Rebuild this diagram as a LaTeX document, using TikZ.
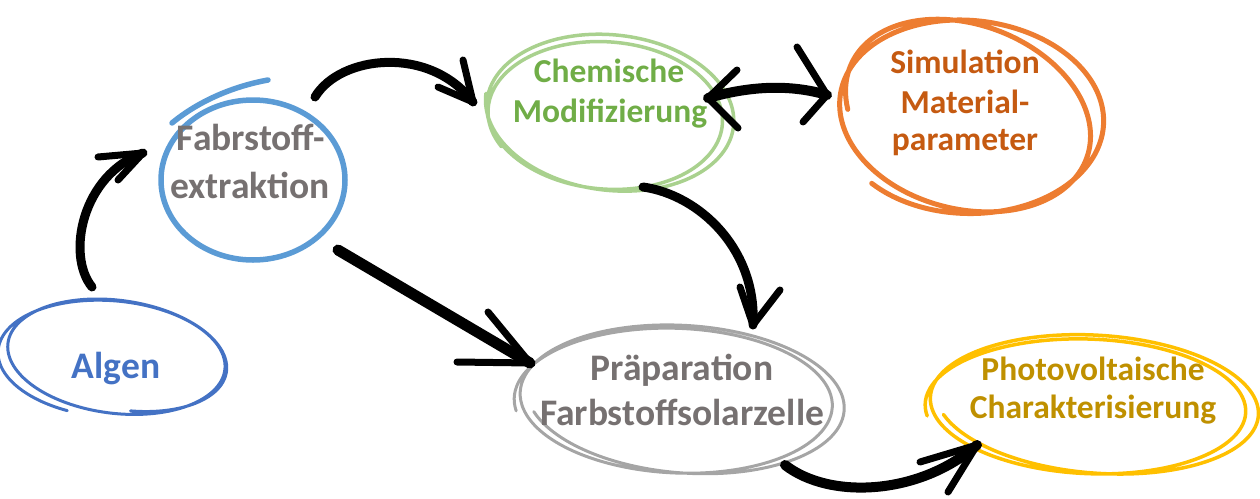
\documentclass[tikz,border=0pt]{standalone}
\usepackage{fontspec}
\setmainfont{Carlito}
\definecolor{cAlg}{HTML}{4472C4}
\definecolor{cFabE}{HTML}{5B9BD5}
\definecolor{cGrayT}{HTML}{767171}
\definecolor{cGrnT}{HTML}{70AD47}
\definecolor{cGrnE}{HTML}{A9D18E}
\definecolor{cOrT}{HTML}{C55A11}
\definecolor{cOrE}{HTML}{ED7D31}
\definecolor{cGrayE}{HTML}{A5A5A5}
\definecolor{cYelT}{HTML}{BF9000}
\definecolor{cYelE}{HTML}{FFC000}
% #1 style, #2 cx, #3 cy, #4 rx, #5 ry, #6 rotation, #7 start angle, #8 end angle, #9 growth
\newcommand{\sketchloop}[9]{%
  \draw[#1] plot[domain=#7:#8, samples=220, smooth, variable=\t]
   ({#2 + (1+#9*(\t-#7)/(#8-#7))*(#4*cos(\t)*cos(#6) - #5*sin(\t)*sin(#6))},
    {#3 + (1+#9*(\t-#7)/(#8-#7))*(#4*cos(\t)*sin(#6) + #5*sin(\t)*cos(#6))});
}
\begin{document}
\begin{tikzpicture}[x=1pt,y=-1pt,
  lbl/.style={anchor=base, inner sep=0pt, font=\fontsize{33.5}{40}\selectfont\bfseries},
  biglbl/.style={lbl, font=\fontsize{37.5}{44}\selectfont\bfseries},
  loop/.style={line cap=round, line join=round},
  brush/.style={line width=9pt, line cap=round, line join=round, black},
  brushhead/.style={line width=7pt, line cap=round, black}]
\useasboundingbox (0,0) rectangle (1260,498);

% ---- ellipses
\sketchloop{loop, cAlg, line width=3pt}{(110+0.016*(\t-110))}{(359-0.006*(\t-110))}{114}{58}{(4+0.008*(\t-110))}{110}{800}{-0.06}
\draw[loop, cFabE, line width=5.5pt] (253,180) ellipse [x radius=92, y radius=80];
\draw[loop, cFabE, line width=5.5pt] (172,123) .. controls (200,100) and (235,86) .. (268,80);
\sketchloop{loop, cGrnE, line width=3.5pt}{(602+0.014*(\t-150))}{(116-0.008*(\t-150))}{114}{72}{(3+0.006*(\t-150))}{150}{900}{0.12}
\sketchloop{loop, cOrE, line width=5pt}{(964+0.012*(\t-150))}{116}{124}{90}{(26-0.04*(\t-150))}{150}{860}{0.09}
\sketchloop{loop, cGrayE, line width=3pt}{(670+0.025*(\t-170))}{(401-0.004*(\t-170))}{156}{72}{(1+0.005*(\t-170))}{170}{880}{0.04}
\sketchloop{loop, cYelE, line width=3.5pt}{(1082+0.025*(\t-170))}{(407-0.006*(\t-170))}{157}{67}{(1+0.005*(\t-170))}{170}{880}{0.05}

% ---- texts
\node[biglbl, cAlg] (alg) at (116,378) {Algen};
\node[lbl, cGrayT, font=\fontsize{37.5}{44}\selectfont\bfseries] (fab1) at (251,150) {Fabrstoff-};
\node[lbl, cGrayT, font=\fontsize{37.5}{44}\selectfont\bfseries] (fab2) at (250,198) {extraktion};
\node[lbl, cGrnT] (chem1) at (609,82) {Chemische};
\node[lbl, cGrnT] (chem2) at (610,122) {Modifizierung};
\node[lbl, cOrT] (sim1) at (965,73) {Simulation};
\node[lbl, cOrT] (sim2) at (965,113) {Material-};
\node[lbl, cOrT] (sim3) at (965,150) {parameter};
\node[biglbl, cGrayT] (prep1) at (682,380) {Präparation};
\node[biglbl, cGrayT] (prep2) at (682,425) {Farbstoffsolarzelle};
\node[lbl, cYelT] (pv1) at (1093,380) {Photovoltaische};
\node[lbl, cYelT] (pv2) at (1093,418) {Charakterisierung};

% ---- arrow end points
\coordinate (a1s) at (92,287);  \coordinate (a1e) at (143,153);
\coordinate (a2s) at (315,97);  \coordinate (a2e) at (473,102);
\coordinate (a3s) at (708,98);  \coordinate (a3e) at (827,95);
\coordinate (a4s) at (643,187); \coordinate (a4e) at (753,325);
\coordinate (a5s) at (338,250); \coordinate (a5e) at (530,363);
\coordinate (a6s) at (785,465); \coordinate (a6e) at (977,445);

% ---- arrows
\draw[brush] (a1s) .. controls (66,255) and (82,175) .. (a1e);
\draw[brushhead] (a1e) -- (98,157);
\draw[brushhead] (a1e) -- (118,180);

\draw[brush] (a2s) .. controls (340,55) and (430,45) .. (a2e);
\draw[brushhead] (a2e) -- (463,60);
\draw[brushhead] (a2e) -- (438,87);

\draw[brush, line width=10pt] (a3s) .. controls (750,86) and (790,84) .. (a3e);
\draw[brushhead] (a3s) -- (737,70);
\draw[brushhead] (a3s) -- (738,128);
\draw[brushhead] (a3e) -- (797,47);
\draw[brushhead] (a3e) -- (803,122);

\draw[brush] (a4s) .. controls (700,195) and (757,250) .. (a4e);
\draw[brushhead] (a4e) -- (740,287);
\draw[brushhead] (a4e) -- (780,290);

\draw[brush, line width=11pt] (a5s) -- (a5e);
\draw[brushhead] (a5e) -- (488,312);
\draw[brushhead] (a5e) -- (457,362);

\draw[brush, line width=10pt] (a6s) .. controls (830,500) and (920,495) .. (a6e);
\draw[brushhead] (a6e) -- (920,462);
\draw[brushhead] (a6e) -- (948,492);
\end{tikzpicture}
\end{document}
